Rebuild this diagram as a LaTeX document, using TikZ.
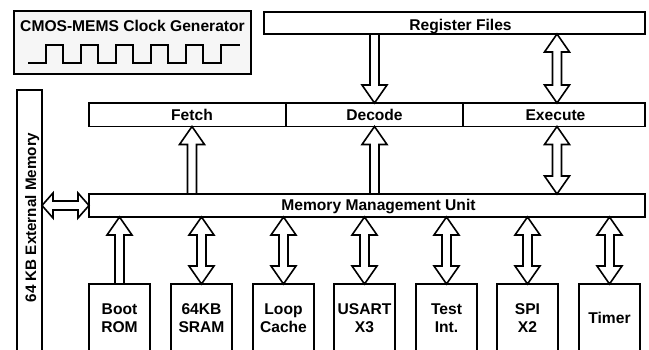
\documentclass[tikz,border=0pt]{standalone}
\usepackage{fontspec}
\setmainfont{Liberation Sans}
\usetikzlibrary{calc}
\definecolor{clkfill}{RGB}{246,246,246}
\newcommand\lbf{\fontsize{15.6}{17.5}\selectfont\bfseries}
\tikzset{
 box/.style={draw, line width=1.6pt, fill=white, inner sep=0pt, outer sep=0pt},
 botbox/.style={box, minimum width=61pt, minimum height=68pt, anchor=north, font=\lbf, align=center},
 lbl/.style={inner sep=0pt, outer sep=0pt, font=\lbf, anchor=base},
 fat/.style={draw, line width=1.6pt, fill=white, line join=miter},
 wave/.style={draw, line width=1.6pt, line join=miter},
}
% single-headed fat arrow, head at the second point
\newcommand\fatone[3][18]{%
 \path[fat] let \p1=#2, \p2=#3, \n1={atan2(\y2-\y1,\x2-\x1)}, \n2={veclen(\x2-\x1,\y2-\y1)} in
 [shift={(\x1,\y1)}, rotate=\n1]
 (0pt,4.5pt) -- ({(\n2-#1)*1pt},4.5pt) -- ({(\n2-#1)*1pt},12.5pt) -- ({\n2*1pt},0pt)
 -- ({(\n2-#1)*1pt},-12.5pt) -- ({(\n2-#1)*1pt},-4.5pt) -- (0pt,-4.5pt) -- cycle;}
% double-headed fat arrow
\newcommand\fattwo[3][18]{%
 \path[fat] let \p1=#2, \p2=#3, \n1={atan2(\y2-\y1,\x2-\x1)}, \n2={veclen(\x2-\x1,\y2-\y1)} in
 [shift={(\x1,\y1)}, rotate=\n1]
 (0pt,0pt) -- ({#1*1pt},12.5pt) -- ({#1*1pt},4.5pt) -- ({(\n2-#1)*1pt},4.5pt) -- ({(\n2-#1)*1pt},12.5pt)
 -- ({\n2*1pt},0pt) -- ({(\n2-#1)*1pt},-12.5pt) -- ({(\n2-#1)*1pt},-4.5pt) -- ({#1*1pt},-4.5pt)
 -- ({#1*1pt},-12.5pt) -- cycle;}
\begin{document}
\begin{tikzpicture}[x=1pt,y=-1pt]
\useasboundingbox (0,0) rectangle (649,350);
\clip (0,0) rectangle (649,350);
\fill[white] (0,0) rectangle (649,350);

% clock generator
\node[box, fill=clkfill, minimum width=237pt, minimum height=63pt, anchor=north west] (clk) at (14,11) {};
\node[lbl] (clktxt) at (132.5,32) {CMOS-MEMS Clock Generator};
\draw[wave] (28,63) -| (46,45) -| (63,63) -| (81,45) -| (98,63) -| (116,45) -| (133,63)
  -| (151,45) -| (168,63) -| (186,45) -| (203,63) -| (221,45) -- (240,45);

% register files
\node[box, minimum width=381pt, minimum height=22pt, anchor=north west] (regs) at (264,12) {};
\node[lbl] (regstxt) at (460.5,31) {Register Files};

% pipeline stages
\node[box, minimum width=197pt, minimum height=23.5pt, anchor=north west] (fetch) at (89,103) {};
\node[box, minimum width=177pt, minimum height=23.5pt, anchor=north west] (decode) at (286,103) {};
\node[box, minimum width=182pt, minimum height=23.5pt, anchor=north west] (execute) at (463,103) {};
\node[lbl] (fetchtxt) at (192,120.7) {Fetch};
\node[lbl] (decodetxt) at (374.5,120.7) {Decode};
\node[lbl] (executetxt) at (555.5,121) {Execute};

% memory management unit
\node[box, minimum width=556pt, minimum height=23pt, anchor=north west] (mmu) at (89,194) {};
\node[lbl] (mmutxt) at (378.5,210.7) {Memory Management Unit};

% external memory
\node[box, minimum width=25pt, minimum height=290pt, anchor=north] (ext) at (29.5,90) {};
\node[lbl, font=\fontsize{15.2}{17}\selectfont\bfseries, rotate=90] (exttxt) at (36,217.5) {64 KB External Memory};

% peripherals
\node[botbox] (boot)  at (119.5,284) {Boot\\ROM};
\node[botbox] (sram)  at (201.5,284) {64KB\\SRAM};
\node[botbox] (loop)  at (283.5,284) {Loop\\Cache};
\node[botbox] (usart) at (364.5,284) {USART\\X3};
\node[botbox] (test)  at (446.5,284) {Test\\Int.};
\node[botbox] (spi)   at (527.5,284) {SPI\\X2};
\node[botbox] (timer) at (609.5,284) {Timer};

% helper coordinates
\coordinate (fs) at ([xshift=4.5pt]fetch.south);
\coordinate (en) at ([xshift=3pt]execute.north);
\coordinate (es) at ([xshift=3pt]execute.south);

% connectors
\fatone{(decode.north |- regs.south)}{(decode.north)}
\fattwo{(en |- regs.south)}{(en)}
\fatone{(fs |- mmu.north)}{(fs)}
\fatone{(decode.south |- mmu.north)}{(decode.south)}
\fattwo{(es |- mmu.north)}{(es)}
\fattwo[11]{(mmu.west -| ext.east)}{(mmu.west)}
\fatone{(boot.north)}{(boot.north |- mmu.south)}
\fattwo{(sram.north |- mmu.south)}{(sram.north)}
\fattwo{(loop.north |- mmu.south)}{(loop.north)}
\fattwo{(usart.north |- mmu.south)}{(usart.north)}
\fattwo{(test.north |- mmu.south)}{(test.north)}
\fattwo{(spi.north |- mmu.south)}{(spi.north)}
\fattwo{(timer.north |- mmu.south)}{(timer.north)}
\end{tikzpicture}
\end{document}
